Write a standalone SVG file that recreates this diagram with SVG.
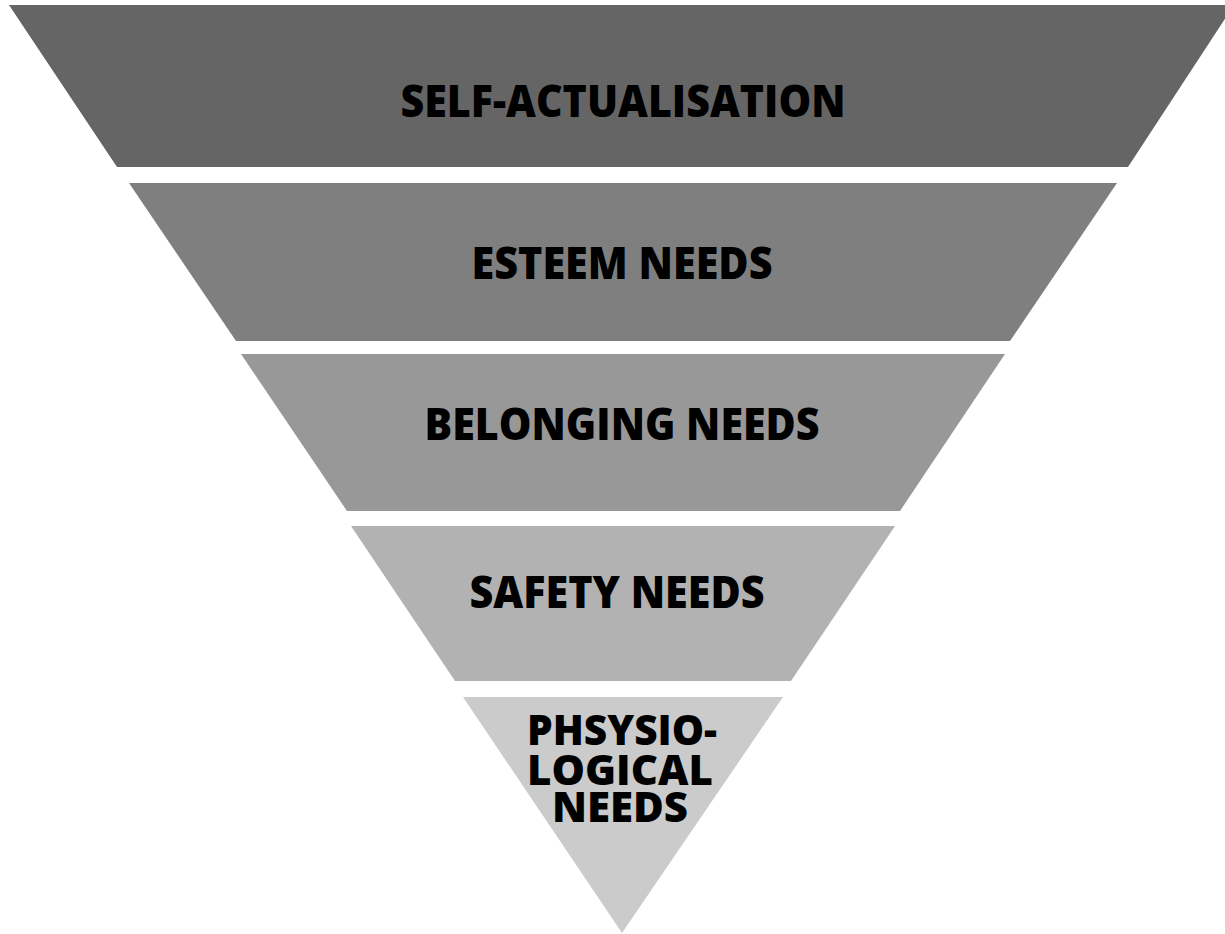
<svg xmlns="http://www.w3.org/2000/svg" width="1225" height="934" viewBox="0 0 1225 934">
<style>
.lbl{font-family:"Open Sans","Liberation Sans",sans-serif;font-weight:800;fill:#000;text-anchor:middle;font-size:45px;}
.small{font-size:42px;}
</style>
<rect x="0" y="0" width="1225" height="934" fill="#ffffff"/>
<g id="self-actualisation">
<polygon points="9,5 1234,5 1128,167 117,167" fill="#656565"/>
<text class="lbl" x="623" y="117" textLength="445" lengthAdjust="spacingAndGlyphs">SELF-ACTUALISATION</text>
</g>
<g id="esteem-needs">
<polygon points="129,183 1117,183 1010,341 236,341" fill="#7f7f7f"/>
<text class="lbl" x="622" y="279" textLength="301" lengthAdjust="spacingAndGlyphs">ESTEEM NEEDS</text>
</g>
<g id="belonging-needs">
<polygon points="241,354 1005,354 900,511 347,511" fill="#989898"/>
<text class="lbl" x="622" y="440" textLength="395" lengthAdjust="spacingAndGlyphs">BELONGING NEEDS</text>
</g>
<g id="safety-needs">
<polygon points="351,526 895,526 791,681 455,681" fill="#b2b2b2"/>
<text class="lbl" x="617" y="608" textLength="295" lengthAdjust="spacingAndGlyphs">SAFETY NEEDS</text>
</g>
<g id="physiological-needs">
<polygon points="463,697 783,697 622,933" fill="#cbcbcb"/>
<text class="lbl small"><tspan x="622" y="745" textLength="190" lengthAdjust="spacingAndGlyphs">PHSYSIO-</tspan><tspan x="620" y="785">LOGICAL</tspan><tspan x="620" y="822">NEEDS</tspan></text>
</g>
<g id="connectors"></g>
</svg>
